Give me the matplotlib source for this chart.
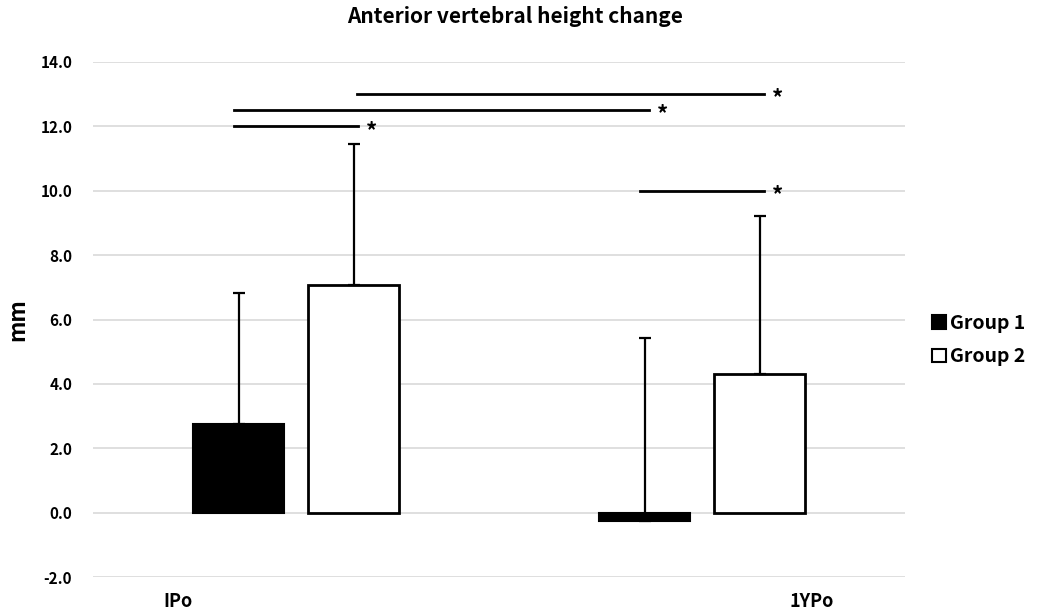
import matplotlib.pyplot as plt
import numpy as np

plt.rcParams['font.family'] = ['Noto Sans CJK KR', 'DejaVu Sans']
plt.rcParams['font.weight'] = 'bold'

categories = ["IPo", "1YPo"]
groups = ["Group 1", "Group 2"]
means_g1 = [2.75, -0.25]
means_g2 = [7.08, 4.32]
sd_g1 = [4.08, 5.68]
sd_g2 = [4.38, 4.9]

# significance lines: (start bar, end bar, height)
sig_lines = [((0, 1), (1, 1), 13.0),
             ((0, 0), (1, 0), 12.5),
             ((0, 0), (0, 1), 12.0),
             ((1, 0), (1, 1), 10.0)]

fig = plt.figure(figsize=(10.38, 6.09), dpi=100)
ax = fig.add_axes([0.0896, 0.0525, 0.7824, 0.8457])

x = np.arange(len(categories))
w = 0.224
off = 0.1416
pos = {0: x - off, 1: x + off}

ax.bar(pos[0], means_g1, w, color='black', edgecolor='black', linewidth=1.5,
       label=groups[0], zorder=2)
ax.bar(pos[1], means_g2, w, color='white', edgecolor='black', linewidth=2,
       label=groups[1], zorder=2)

for p, m, s in [(pos[0], means_g1, sd_g1), (pos[1], means_g2, sd_g2)]:
    ax.errorbar(p, m, yerr=[np.zeros(len(s)), s], fmt='none', ecolor='black',
                elinewidth=1.6, capsize=4, capthick=1.6, zorder=3)

for (c0, g0), (c1, g1), h in sig_lines:
    xs = pos[g0][c0] - 0.012 if g0 == 0 else pos[g0][c0] + 0.008
    xe = pos[g1][c1] + 0.012
    ax.plot([xs, xe], [h, h], color='black', lw=2, zorder=3)
    ax.text(xe + 0.032, h - 0.15, "*", ha='center', va='center', fontsize=16, fontweight='bold')

ax.set_xlim(-0.5, 1.5)
ax.set_ylim(-2, 14)
ax.set_yticks(np.arange(-2, 14.1, 2))
ax.set_yticklabels([f"{v:.1f}" for v in np.arange(-2, 14.1, 2)], fontsize=11, fontweight='bold')
ax.set_xticks([])
ax.grid(True, axis='y', color='#d9d9d9', linewidth=1.2, zorder=0)
ax.set_axisbelow(True)
ax.tick_params(axis='y', length=0, pad=15)
for sp in ax.spines.values():
    sp.set_visible(False)

# category labels sit below the axis, offset like in the original
ax.text(-0.29, -2.75, categories[0], ha='center', va='center', fontsize=13, fontweight='bold')
ax.text(1.27, -2.75, categories[1], ha='center', va='center', fontsize=13, fontweight='bold')

ax.set_ylabel("mm", fontsize=16, fontweight='bold', labelpad=8)
ax.set_title("Anterior vertebral height change", fontsize=15, fontweight='bold', pad=28, x=0.52)

leg = ax.legend(loc='center left', bbox_to_anchor=(1.033, 0.46), frameon=False,
                prop={'size': 14, 'weight': 'bold'}, handlelength=0.7, handleheight=0.7,
                handletextpad=0.25, labelspacing=0.75, borderpad=0, borderaxespad=0)
for h in leg.legend_handles:
    h.set_linewidth(1.5)

fig.savefig("out.png", dpi=100)
